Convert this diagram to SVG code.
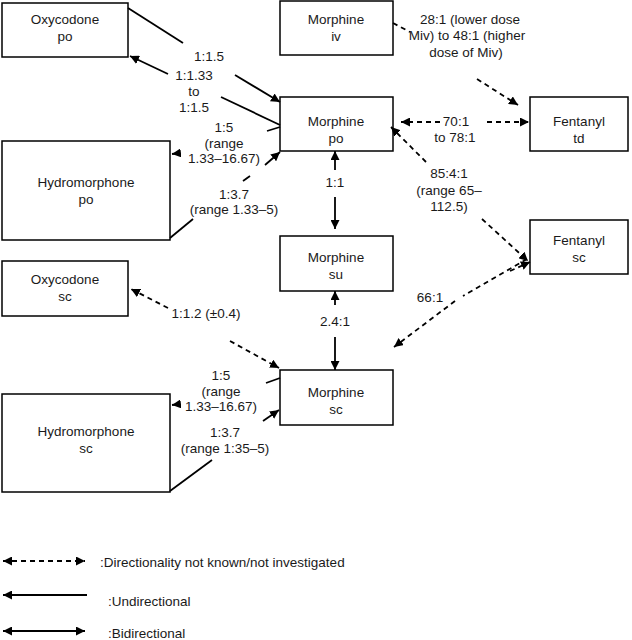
<svg xmlns="http://www.w3.org/2000/svg" width="632" height="640" viewBox="0 0 632 640">
<defs>
<marker id="ah" viewBox="0 0 10 10" refX="10" refY="5" markerWidth="9" markerHeight="9" markerUnits="userSpaceOnUse" orient="auto-start-reverse"><path d="M0,0 L10,5 L0,10 z" fill="#000"/></marker>
<style>
.b{fill:#fff;stroke:#000;stroke-width:1.5}
text{font-family:"Liberation Sans",Arial,sans-serif;font-size:13.5px;fill:#1a1a1a;text-anchor:middle}
.s{stroke:#000;stroke-width:1.8;fill:none}
.d{stroke:#000;stroke-width:1.8;fill:none;stroke-dasharray:5,4}
.l{text-anchor:start}
</style>
</defs>
<rect width="632" height="640" fill="#fff"/>
<g id="oxy_po"><rect class="b" x="2" y="3" width="126" height="54"/><text x="65" y="24">Oxycodone</text><text x="65" y="41">po</text></g>
<g id="morph_iv"><rect class="b" x="280" y="1" width="113" height="54"/><text x="336" y="24">Morphine</text><text x="336" y="41">iv</text></g>
<g id="morph_po"><rect class="b" x="280" y="97" width="113" height="54"/><text x="336" y="126">Morphine</text><text x="336" y="143">po</text></g>
<g id="fent_td"><rect class="b" x="530" y="97" width="98" height="54"/><text x="579" y="126">Fentanyl</text><text x="579" y="143">td</text></g>
<g id="hydro_po"><rect class="b" x="2" y="141" width="168" height="99"/><text x="86" y="187">Hydromorphone</text><text x="86" y="204">po</text></g>
<g id="fent_sc"><rect class="b" x="530" y="220" width="98" height="54"/><text x="579" y="245">Fentanyl</text><text x="579" y="262">sc</text></g>
<g id="morph_su"><rect class="b" x="280" y="236" width="113" height="55"/><text x="336" y="262">Morphine</text><text x="336" y="279">su</text></g>
<g id="oxy_sc"><rect class="b" x="2" y="261" width="126" height="55"/><text x="65" y="284">Oxycodone</text><text x="65" y="301">sc</text></g>
<g id="morph_sc"><rect class="b" x="280" y="370" width="113" height="55"/><text x="336" y="397">Morphine</text><text x="336" y="414">sc</text></g>
<g id="hydro_sc"><rect class="b" x="2" y="394" width="168" height="98"/><text x="86" y="436">Hydromorphone</text><text x="86" y="453">sc</text></g>
<g id="connectors">
<line class="s" x1="128" y1="8" x2="183" y2="43"/>
<line class="s" x1="235" y1="75" x2="280" y2="102" marker-end="url(#ah)"/>
<line class="s" x1="280" y1="125" x2="221" y2="97"/>
<line class="s" x1="168" y1="74" x2="130" y2="56" marker-end="url(#ah)"/>
<line class="s" x1="280" y1="127" x2="267" y2="131"/>
<line class="s" x1="180" y1="153" x2="172" y2="154" marker-end="url(#ah)"/>
<line class="s" x1="265" y1="165" x2="280" y2="152" marker-end="url(#ah)"/>
<line class="s" x1="243" y1="181" x2="250" y2="176"/>
<line class="s" x1="170" y1="238" x2="193" y2="219"/>
<line class="s" x1="335" y1="170" x2="335" y2="151" marker-end="url(#ah)"/>
<line class="s" x1="335" y1="197" x2="335" y2="229" marker-end="url(#ah)"/>
<line class="s" x1="335" y1="305" x2="335" y2="291" marker-end="url(#ah)"/>
<line class="s" x1="335" y1="337" x2="335" y2="370" marker-end="url(#ah)"/>
<line class="d" x1="393" y1="23" x2="410" y2="32"/>
<line class="d" x1="477" y1="79" x2="518" y2="105" marker-end="url(#ah)"/>
<line class="d" x1="440" y1="122" x2="401" y2="122" marker-end="url(#ah)"/>
<line class="d" x1="487" y1="122" x2="529" y2="122" marker-end="url(#ah)"/>
<line class="d" x1="426" y1="162" x2="391" y2="127" marker-end="url(#ah)"/>
<line class="d" x1="482" y1="219" x2="528" y2="261" marker-end="url(#ah)"/>
<line class="d" x1="527" y1="259" x2="463" y2="296"/>
<line class="d" x1="510" y1="271" x2="530" y2="262" marker-end="url(#ah)"/>
<line class="d" x1="455" y1="301" x2="394" y2="347" marker-end="url(#ah)"/>
<line class="d" x1="168" y1="308" x2="131" y2="289" marker-end="url(#ah)"/>
<line class="d" x1="230" y1="341" x2="279" y2="368" marker-end="url(#ah)"/>
<line class="s" x1="280" y1="378" x2="266" y2="383"/>
<line class="s" x1="180" y1="404" x2="172" y2="405" marker-end="url(#ah)"/>
<line class="s" x1="263" y1="421" x2="279" y2="410" marker-end="url(#ah)"/>
<line class="s" x1="212" y1="460" x2="170" y2="491"/>
</g>
<g id="labels">
<text x="209" y="61">1:1.5</text>
<text x="194" y="80">1:1.33</text><text x="194" y="96">to</text><text x="194" y="112">1:1.5</text>
<text x="224" y="132">1:5</text><text x="224" y="148">(range</text><text x="224" y="163">1.33–16.67)</text>
<text x="234" y="199">1:3.7</text><text x="234" y="214">(range 1.33–5)</text>
<text x="335" y="187">1:1</text>
<text x="335" y="326">2.4:1</text>
<text x="470" y="24">28:1 (lower dose</text><text x="467" y="40">Miv) to 48:1 (higher</text><text x="466" y="57">dose of Miv)</text>
<text x="456" y="126">70:1</text><text x="455" y="142">to 78:1</text>
<text x="449" y="178">85:4:1</text><text x="449" y="195">(range 65–</text><text x="449" y="211">112.5)</text>
<text x="430" y="302">66:1</text>
<text x="206" y="318">1:1.2 (±0.4)</text>
<text x="221" y="380">1:5</text><text x="221" y="396">(range</text><text x="221" y="411">1.33–16.67)</text>
<text x="225" y="437">1:3.7</text><text x="225" y="453">(range 1:35–5)</text>
</g>
<g id="legend">
<line class="d" x1="3" y1="561" x2="85" y2="561" marker-start="url(#ah)" marker-end="url(#ah)"/>
<text class="l" x="100" y="567">:Directionality not known/not investigated</text>
<line class="s" x1="3" y1="595" x2="87" y2="595" marker-start="url(#ah)"/>
<text class="l" x="108" y="606">:Undirectional</text>
<line class="s" x1="3" y1="631" x2="85" y2="631" marker-start="url(#ah)" marker-end="url(#ah)"/>
<text class="l" x="108" y="638">:Bidirectional</text>
</g>
</svg>
